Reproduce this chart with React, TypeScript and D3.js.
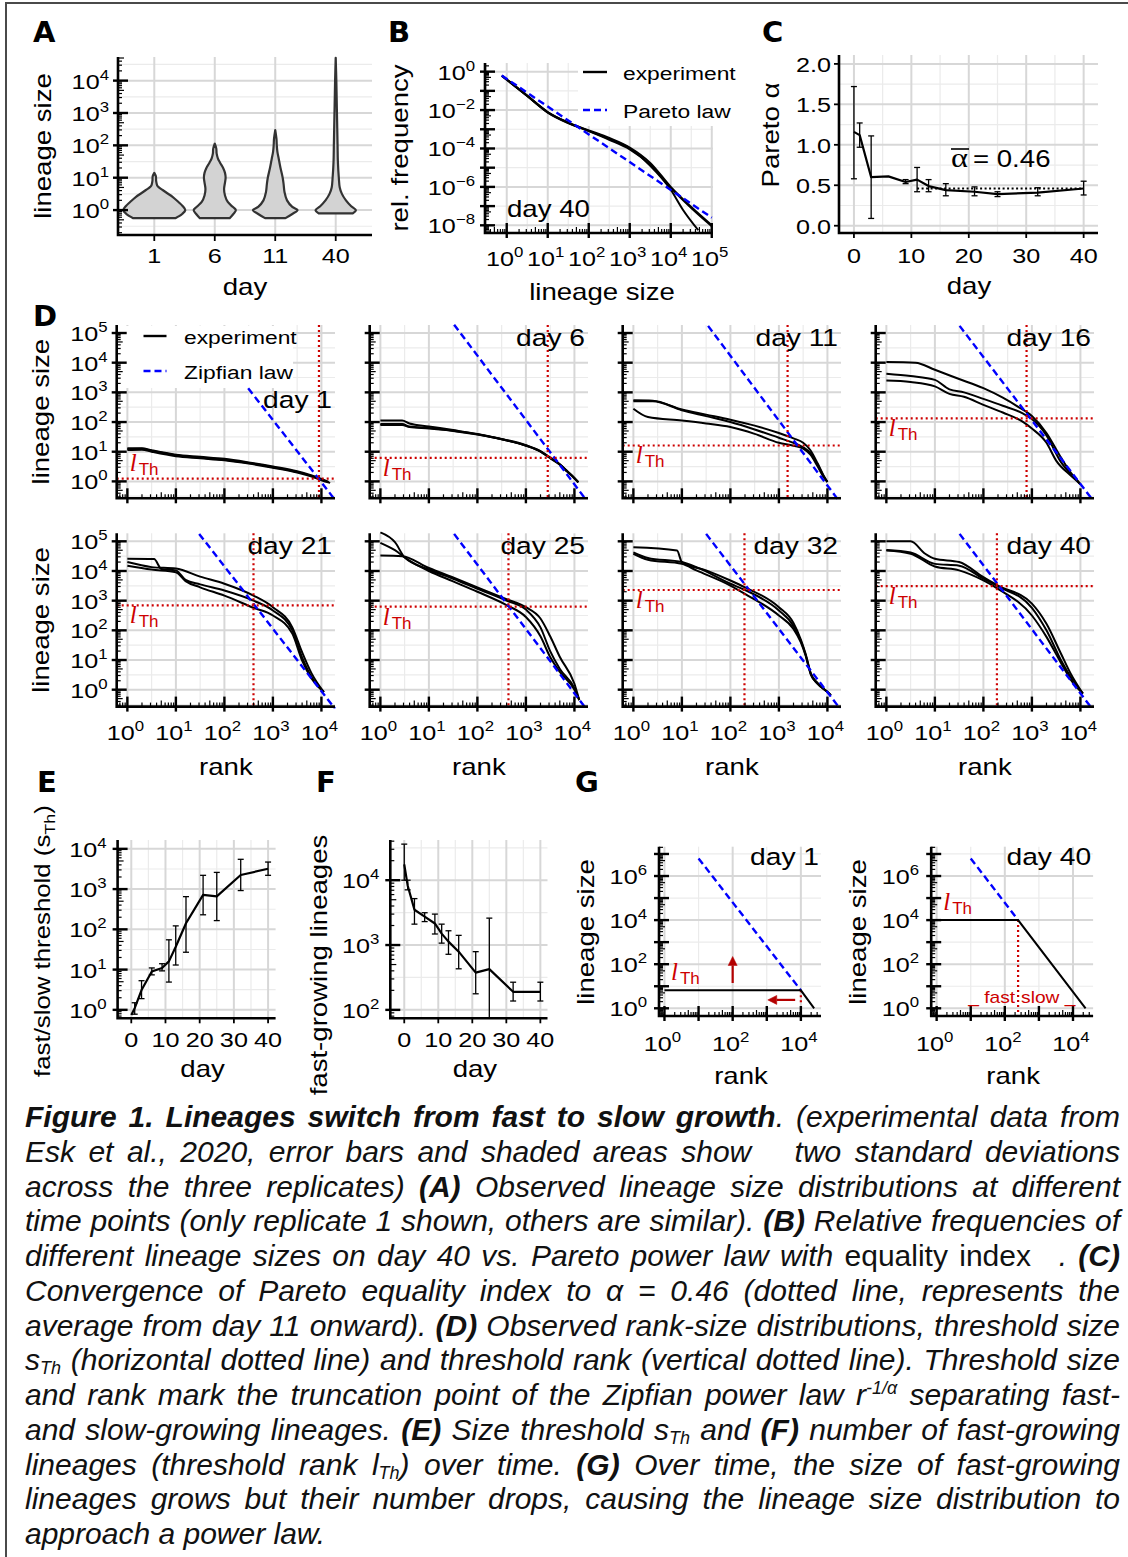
import React from "react";
import * as d3 from "d3";

const SANS = "'Liberation Sans', Arial, Helvetica, sans-serif";
const SERIF = "'Liberation Serif', 'Times New Roman', serif";
const HEAVY = "'DejaVu Sans', Verdana, sans-serif";
const RED = "#cd0000";
const BLUE = "#0000ff";
const GRID_MAJOR = "#d7d7d7";
const GRID_MINOR = "#ebebeb";
const SX = 1.2; // lettering in the figure is drawn a bit wide

type Pt = number[];
type Box = { l: number; r: number; t: number; b: number };

// ---------- A: violins, [log10 lineage size, relative density] ----------
const violinDays = ["1", "6", "11", "40"];
const violinDay1 = [[-0.25, 0.68], [-0.12, 0.9], [0, 1.0], [0.12, 0.92], [0.25, 0.78], [0.41, 0.59], [0.52, 0.42], [0.62, 0.27], [0.7, 0.15], [0.77, 0.09], [0.9, 0.06], [1.05, 0.05], [1.15, 0]];
const violinDay6 = [[-0.25, 0.48], [-0.12, 0.6], [0, 0.68], [0.1, 0.58], [0.25, 0.42], [0.45, 0.33], [0.65, 0.3], [0.85, 0.33], [1.0, 0.35], [1.15, 0.33], [1.3, 0.27], [1.45, 0.18], [1.6, 0.1], [1.75, 0.06], [1.9, 0.05], [2.05, 0]];
const violinDay11 = [[-0.25, 0.33], [-0.12, 0.55], [0, 0.72], [0.1, 0.55], [0.3, 0.38], [0.55, 0.3], [0.8, 0.27], [1.0, 0.24], [1.3, 0.17], [1.6, 0.11], [1.8, 0.07], [2.0, 0.05], [2.2, 0.04], [2.47, 0]];
const violinDay40 = [[-0.1, 0.55], [0, 0.65], [0.12, 0.5], [0.3, 0.33], [0.5, 0.2], [0.7, 0.13], [1.0, 0.1], [1.5, 0.07], [2.0, 0.06], [2.5, 0.05], [3.0, 0.04], [3.5, 0.03], [4.0, 0.02], [4.7, 0]];
const violinProfiles = [violinDay1, violinDay6, violinDay11, violinDay40];

// ---------- B: day 40 size distribution, [log10 size, log10 rel. frequency] ----------
const bRep1 = [[-0.12, -0.2], [0.5, -1.25], [1, -2.1], [1.5, -2.65], [2, -3.08], [2.5, -3.5], [3, -4.0], [3.5, -4.9], [4, -6.15], [4.3, -7.2], [4.67, -8.25]];
const bRep2 = [[-0.12, -0.21], [0.5, -1.27], [1, -2.13], [1.5, -2.68], [2, -3.1], [2.5, -3.55], [3, -4.05], [3.5, -4.85], [4, -6.05], [4.5, -7.1], [5, -8.05]];
const bRep3 = [[-0.12, -0.22], [0.5, -1.26], [1, -2.12], [1.5, -2.66], [2, -3.06], [2.5, -3.45], [3, -3.95], [3.5, -4.75], [4, -6.0], [4.5, -7.05], [5, -8.0]];
const bExperiment = [bRep1, bRep2, bRep3];
const bPareto = [[-0.12, -0.2], [5, -7.6]];
const bYExp = [0, -2, -4, -6, -8];
const bXExp = [0, 1, 2, 3, 4, 5];

// ---------- C: Pareto alpha over time ----------
const cDays = [0, 1, 3, 6, 9, 11, 13, 16, 21, 25, 32, 40];
const cAlpha = [1.16, 1.12, 0.6, 0.61, 0.54, 0.57, 0.49, 0.44, 0.42, 0.39, 0.41, 0.46];
const cAlphaLo = [0.58, 0.97, 0.09, 0.61, 0.52, 0.42, 0.42, 0.37, 0.37, 0.36, 0.37, 0.38];
const cAlphaHi = [1.72, 1.27, 1.11, 0.61, 0.57, 0.72, 0.57, 0.52, 0.48, 0.42, 0.47, 0.55];
const cAlphaMean = 0.46;
const cMeanFrom = 11;
const cYTicks = [0, 0.5, 1, 1.5, 2];
const dayTicks = [0, 10, 20, 30, 40];

// ---------- D: rank-size curves, [log10 rank, log10 size] ----------
const dTitles = ["day 1", "day 6", "day 11", "day 16", "day 21", "day 25", "day 32", "day 40"];
const dRankTh = [8900, 2820, 1510, 776, 398, 437, 195, 190];
const dSizeTh = [1.23, 6.2, 16.2, 132, 690, 630, 2290, 3090];
const dZipf = [
  [[2.49, 3.14], [4.28, -0.62]],
  [[1.52, 5.28], [4.24, -0.62]],
  [[1.54, 5.24], [4.22, -0.62]],
  [[1.51, 5.24], [4.25, -0.62]],
  [[1.48, 5.25], [4.28, -0.64]],
  [[1.52, 5.25], [4.24, -0.64]],
  [[1.5, 5.25], [4.26, -0.64]],
  [[1.51, 5.25], [4.24, -0.64]],
];
const dDay1 = [
  [[0, 1.12], [0.3, 1.12], [0.5, 1.05], [1, 0.9], [1.5, 0.83], [2, 0.76], [2.5, 0.64], [3, 0.5], [3.5, 0.34], [3.8, 0.2], [4, 0.08], [4.15, -0.02]],
  [[0, 1.06], [0.3, 1.07], [0.5, 1.0], [1, 0.85], [1.5, 0.78], [2, 0.71], [2.5, 0.6], [3, 0.46], [3.5, 0.3], [3.8, 0.16], [4, 0.04], [4.18, -0.05]],
  [[0, 1.09], [0.3, 1.1], [0.5, 1.03], [1, 0.88], [1.5, 0.8], [2, 0.73], [2.5, 0.62], [3, 0.48], [3.5, 0.32], [3.8, 0.18], [4, 0.06], [4.12, 0.0]],
];
const dDay6 = [
  [[0, 2.05], [0.45, 2.05], [0.6, 1.95], [1, 1.85], [1.5, 1.73], [2, 1.6], [2.5, 1.43], [3, 1.22], [3.3, 1.02], [3.5, 0.8], [3.7, 0.58], [3.85, 0.35], [4.0, 0.12], [4.08, -0.03]],
  [[0, 1.9], [0.45, 1.9], [0.6, 1.83], [1, 1.78], [1.5, 1.7], [2, 1.58], [2.5, 1.42], [3, 1.2], [3.3, 1.0], [3.5, 0.78], [3.7, 0.56], [3.85, 0.33], [4.0, 0.1], [4.08, -0.03]],
  [[0, 1.93], [0.45, 1.93], [0.6, 1.85], [1, 1.8], [1.5, 1.71], [2, 1.59], [2.5, 1.42], [3, 1.21], [3.3, 1.01], [3.5, 0.79], [3.7, 0.57], [3.85, 0.34], [4.0, 0.11], [4.08, -0.03]],
];
const dDay11 = [
  [[0, 2.73], [0.4, 2.72], [1, 2.42], [1.5, 2.25], [2, 2.08], [2.5, 1.88], [3, 1.63], [3.3, 1.45], [3.5, 1.3], [3.65, 1.05], [3.8, 0.6], [3.92, 0.2], [4.0, -0.02]],
  [[0, 2.7], [0.4, 2.7], [1, 2.4], [1.5, 2.2], [2, 2.0], [2.5, 1.75], [3, 1.47], [3.3, 1.3], [3.5, 1.15], [3.65, 0.95], [3.8, 0.55], [3.92, 0.18], [4.0, -0.02]],
  [[0, 2.45], [0.3, 2.17], [1, 2.05], [1.5, 1.95], [2, 1.83], [2.5, 1.6], [3, 1.3], [3.3, 1.2], [3.5, 1.1], [3.65, 0.9], [3.8, 0.5], [3.92, 0.15], [4.0, -0.02]],
];
const dDay16 = [
  [[0, 4.02], [0.6, 4.0], [1, 3.76], [1.5, 3.45], [2, 3.14], [2.4, 2.82], [2.7, 2.53], [3, 2.2], [3.3, 1.63], [3.6, 0.8], [3.8, 0.3], [3.95, 0.0], [4.0, -0.1]],
  [[0, 3.63], [0.5, 3.55], [1, 3.42], [1.3, 3.1], [1.6, 3.0], [2, 2.78], [2.4, 2.55], [2.8, 2.3], [3, 2.1], [3.3, 1.55], [3.6, 0.65], [3.8, 0.25], [3.95, 0.0], [4.0, -0.1]],
  [[0, 3.4], [0.5, 3.35], [1, 3.2], [1.3, 2.95], [1.6, 2.85], [2, 2.58], [2.4, 2.32], [2.8, 2.02], [3, 1.78], [3.3, 1.3], [3.5, 0.7], [3.8, 0.2], [3.95, -0.02], [4.0, -0.1]],
];
const dDay21 = [
  [[0, 4.41], [0.55, 4.4], [0.7, 4.07], [1, 4.02], [1.2, 3.7], [1.5, 3.55], [2, 3.34], [2.6, 3.0], [3, 2.67], [3.4, 2.0], [3.6, 1.1], [3.8, 0.42], [4.05, -0.08]],
  [[0, 4.3], [0.5, 4.13], [1, 4.08], [1.5, 3.81], [2, 3.57], [2.6, 3.17], [3, 2.78], [3.4, 2.1], [3.6, 1.27], [3.8, 0.54], [4.05, -0.08]],
  [[0, 4.18], [0.5, 4.05], [1, 3.96], [1.2, 3.66], [1.5, 3.45], [2, 3.17], [2.6, 2.76], [3, 2.5], [3.4, 1.89], [3.6, 0.99], [3.8, 0.37], [4.05, -0.08]],
];
const dDay25 = [
  [[0, 5.3], [0.3, 4.97], [0.5, 4.46], [1, 4.05], [1.5, 3.74], [2, 3.4], [2.6, 3.0], [3, 2.7], [3.3, 2.1], [3.5, 1.3], [3.7, 0.7], [4, 0.05], [4.1, -0.35]],
  [[0, 4.52], [0.45, 4.5], [1, 4.1], [1.5, 3.78], [2, 3.45], [2.6, 3.05], [3, 2.78], [3.3, 2.4], [3.5, 1.8], [3.7, 1.1], [4, 0.2], [4.1, -0.35]],
  [[0, 4.95], [0.3, 4.7], [0.55, 4.4], [1, 4.0], [1.5, 3.65], [2, 3.3], [2.6, 2.85], [3, 2.45], [3.3, 1.8], [3.5, 1.1], [3.7, 0.6], [4, 0.0], [4.1, -0.35]],
];
const dDay32 = [
  [[0, 4.8], [0.9, 4.69], [1.0, 4.3], [1.5, 4.02], [2, 3.68], [2.3, 3.45], [3, 2.78], [3.3, 2.25], [3.45, 1.7], [3.55, 1.21], [3.66, 0.54], [3.8, 0.22], [4.0, -0.08], [4.07, -0.19]],
  [[0, 4.63], [0.3, 4.44], [1, 4.3], [1.3, 4.13], [2, 3.57], [2.3, 3.36], [3, 2.67], [3.3, 2.15], [3.45, 1.65], [3.55, 1.18], [3.66, 0.52], [3.8, 0.2], [4.0, -0.08], [4.07, -0.19]],
  [[0, 4.58], [0.3, 4.38], [1, 4.24], [1.3, 4.02], [2, 3.51], [2.3, 3.23], [3, 2.5], [3.3, 2.05], [3.45, 1.6], [3.55, 1.15], [3.66, 0.5], [3.8, 0.2], [4.0, -0.08], [4.07, -0.19]],
];
const dDay40 = [
  [[0, 5.0], [0.5, 5.0], [0.8, 4.58], [1, 4.41], [1.5, 4.3], [2, 3.79], [2.3, 3.51], [3, 2.9], [3.3, 2.22], [3.6, 1.21], [3.8, 0.54], [4.05, -0.13]],
  [[0, 4.71], [0.5, 4.62], [1, 4.24], [1.5, 4.18], [2, 3.74], [2.3, 3.48], [3, 2.76], [3.3, 2.0], [3.6, 0.99], [3.8, 0.43], [4.05, -0.13]],
  [[0, 4.69], [0.5, 4.58], [1, 4.15], [1.5, 4.02], [2, 3.68], [2.3, 3.4], [3, 2.5], [3.3, 1.78], [3.6, 0.9], [3.8, 0.34], [4.05, -0.13]],
];
const dCurves = [dDay1, dDay6, dDay11, dDay16, dDay21, dDay25, dDay32, dDay40];

// ---------- E: fast/slow threshold size ----------
const eDays = [0, 1, 3, 6, 9, 11, 13, 16, 21, 25, 32, 40];
const eSize = [0.75, 1.1, 3.1, 9, 11, 16, 37, 142, 720, 660, 2240, 3200];
const eSizeLo = [0.75, 0.78, 1.9, 7.4, 9.3, 4.9, 13, 27, 230, 165, 920, 2200];
const eSizeHi = [0.75, 1.5, 5.3, 11, 14, 55, 122, 650, 2200, 2600, 5500, 4700];

// ---------- F: number of fast-growing lineages ----------
const fDays = [0, 1, 3, 6, 9, 11, 13, 16, 21, 25, 32, 40];
const fCount = [17500, 8300, 3500, 2750, 2150, 1500, 1130, 790, 375, 425, 190, 190];
const fCountLo = [10000, 7100, 2100, 2300, 1480, 1070, 720, 430, 177, 60, 137, 137];
const fCountHi = [36000, 10000, 5200, 3150, 3000, 2100, 1660, 1410, 790, 2600, 267, 267];

// ---------- G: sketch of truncated power law ----------
const gTitles = ["day 1", "day 40"];
const gRankTh = [10000, 245];
const gSizeTh = [6.5, 10000];
const gLastRank = [24500, 23400];
const gZipfTop = [[10, 6.3e6], [10, 6.3e6]];
const gMarkerBottom = [1.7, 0.45];

// ---------- caption ----------
const captionLines = [
  "*Figure 1. Lineages switch from fast to slow growth*. (experimental data from",
  "Esk et al., 2020, error bars and shaded areas show ¤ two standard deviations",
  "across the three replicates) *(A)* Observed lineage size distributions at different",
  "time points (only replicate 1 shown, others are similar). *(B)* Relative frequencies of",
  "different lineage sizes on day 40 vs. Pareto power law with ~equality index~ ¤. *(C)*",
  "Convergence of Pareto equality index to α = 0.46 (dotted line, represents the",
  "average from day 11 onward). *(D)* Observed rank-size distributions, threshold size",
  "s_{Th} (horizontal dotted line) and threshold rank (vertical dotted line). Threshold size",
  "and rank mark the truncation point of the Zipfian power law r^{-1/α} separating fast-",
  "and slow-growing lineages. *(E)* Size threshold s_{Th} and *(F)* number of fast-growing",
  "lineages (threshold rank l_{Th}) over time. *(G)* Over time, the size of fast-growing",
  "lineages grows but their number drops, causing the lineage size distribution to",
  "approach a power law.",
];

// ================= helpers =================
function Txt(props: any) {
  const { x, y, size, anchor = "start", rot = 0, fill = "#000", family = SANS, italic, bold, sx = SX, children } = props;
  return (
    <text
      transform={`translate(${x},${y})${rot ? ` rotate(${rot})` : ""} scale(${sx},1)`}
      fontSize={size}
      textAnchor={anchor}
      fill={fill}
      fontFamily={family}
      fontStyle={italic ? "italic" : undefined}
      fontWeight={bold ? "bold" : undefined}
    >
      {children}
    </text>
  );
}

function Pow({ x, y, e, anchor = "end" }: { x: number; y: number; e: number; anchor?: string }) {
  const label = e < 0 ? `\u2212${-e}` : String(e);
  return (
    <Txt x={x} y={y} size={21} anchor={anchor}>
      10<tspan dy={-9} fontSize={14}>{label}</tspan>
    </Txt>
  );
}

function Grid({ box, vx = [], vx2 = [], hy = [], hy2 = [] }: { box: Box; vx?: number[]; vx2?: number[]; hy?: number[]; hy2?: number[] }) {
  return (
    <g>
      {vx2.map((p, i) => <line key={"a" + i} x1={p} x2={p} y1={box.t} y2={box.b} stroke={GRID_MINOR} strokeWidth={1.2} />)}
      {hy2.map((p, i) => <line key={"b" + i} x1={box.l} x2={box.r} y1={p} y2={p} stroke={GRID_MINOR} strokeWidth={1.2} />)}
      {vx.map((p, i) => <line key={"c" + i} x1={p} x2={p} y1={box.t} y2={box.b} stroke={GRID_MAJOR} strokeWidth={2} />)}
      {hy.map((p, i) => <line key={"d" + i} x1={box.l} x2={box.r} y1={p} y2={p} stroke={GRID_MAJOR} strokeWidth={2} />)}
    </g>
  );
}

function Spines({ box }: { box: Box }) {
  return <path d={`M${box.l},${box.t}V${box.b}H${box.r}`} fill="none" stroke="#000" strokeWidth={2.6} />;
}

function LogTicks({ scale, side, at }: { scale: any; side: "left" | "bottom"; at: number }) {
  const [a, b] = scale.domain();
  const marks: any[] = [];
  for (let d = Math.floor(Math.log10(a)); d <= Math.ceil(Math.log10(b)); d++) {
    for (let k = 1; k <= 9; k++) {
      const v = k * 10 ** d;
      if (v < a || v > b) continue;
      const p = scale(v);
      const major = k === 1;
      const inner = major ? 10 : k === 5 ? 6 : 4;
      const outer = major ? 5 : 0;
      marks.push(
        side === "left" ? (
          <line key={`${d}-${k}`} x1={at - outer} x2={at + inner} y1={p} y2={p} stroke="#000" strokeWidth={major ? 2.4 : 1.2} />
        ) : (
          <line key={`${d}-${k}`} x1={p} x2={p} y1={at + outer} y2={at - inner} stroke="#000" strokeWidth={major ? 2.4 : 1.2} />
        )
      );
    }
  }
  return <g>{marks}</g>;
}

function Letter({ x, y, c }: { x: number; y: number; c: string }) {
  return <Txt x={x} y={y} size={29} family={HEAVY} bold sx={1}>{c}</Txt>;
}

function LTh({ x, y, size = 25 }: { x: number; y: number; size?: number }) {
  return (
    <text x={x} y={y} fill={RED}>
      <tspan fontFamily={SERIF} fontStyle="italic" fontSize={size}>l</tspan>
      <tspan fontFamily={SANS} fontSize={size * 0.68} dx={2} dy={4}>Th</tspan>
    </text>
  );
}

const logs = (lo: number, hi: number, step = 1) => d3.range(lo, hi + 1e-9, step);

// ================= panels =================
function PanelA() {
  const box = { l: 118, r: 372, t: 57, b: 235 };
  const x = d3.scalePoint<string>().domain(violinDays).range([box.l, box.r]).padding(0.6);
  const y = d3.scaleLog().domain([10 ** -0.77, 10 ** 4.73]).range([box.b, box.t]);
  const half = 31;
  return (
    <g>
      <Grid box={box} vx={violinDays.map((d) => x(d) as number)} hy={logs(0, 4).map((e) => y(10 ** e))} hy2={logs(-0.5, 4.5).map((e) => y(10 ** e))} />
      {violinProfiles.map((prof, i) => {
        const cx = x(violinDays[i]) as number;
        const area = d3
          .area<Pt>()
          .y((d) => y(10 ** d[0]))
          .x0((d) => cx - d[1] * half)
          .x1((d) => cx + d[1] * half)
          .curve(d3.curveCatmullRom.alpha(0.5));
        return <path key={i} d={area(prof) as string} fill="#d3d3d3" stroke="#333" strokeWidth={2.2} strokeLinejoin="round" />;
      })}
      <Spines box={box} />
      <LogTicks scale={y} side="left" at={box.l} />
      {violinDays.map((d) => (
        <line key={d} x1={x(d)} x2={x(d)} y1={box.b} y2={box.b + 6} stroke="#000" strokeWidth={1.8} />
      ))}
      {logs(0, 4).map((e) => <Pow key={e} x={box.l - 9} y={y(10 ** e) + 8} e={e} />)}
      {violinDays.map((d) => (
        <Txt key={d} x={x(d)} y={263} size={21} anchor="middle">{d}</Txt>
      ))}
      <Txt x={245} y={295} size={23} anchor="middle">day</Txt>
      <Txt x={51} y={146} size={23} anchor="middle" rot={-90}>lineage size</Txt>
      <Letter x={33} y={42} c="A" />
    </g>
  );
}

function PanelB() {
  const box = { l: 485, r: 713, t: 63, b: 233 };
  const x = d3.scaleLog().domain([10 ** -0.53, 10 ** 5.03]).range([box.l, box.r]);
  const y = d3.scaleLog().domain([10 ** -8.4, 10 ** 0.45]).range([box.b, box.t]);
  const line = d3
    .line<Pt>()
    .x((d) => x(10 ** d[0]))
    .y((d) => y(10 ** d[1]))
    .curve(d3.curveMonotoneX);
  return (
    <g>
      <clipPath id="clipB">
        <rect x={box.l} y={box.t - 3} width={box.r - box.l + 4} height={box.b - box.t + 6} />
      </clipPath>
      <Grid
        box={box}
        vx={logs(0, 5).map((e) => x(10 ** e))}
        vx2={logs(-0.5, 4.5).map((e) => x(10 ** e))}
        hy={logs(-8, 0, 2).map((e) => y(10 ** e))}
        hy2={logs(-7, -1, 2).map((e) => y(10 ** e))}
      />
      <rect x={578} y={60} width={165} height={66} fill="#fff" />
      <g clipPath="url(#clipB)">
        {bExperiment.map((rep, i) => (
          <path key={i} d={line(rep) as string} fill="none" stroke="#000" strokeWidth={2} />
        ))}
        <path d={line(bPareto) as string} fill="none" stroke={BLUE} strokeWidth={2.4} strokeDasharray="7 4" />
      </g>
      <Spines box={box} />
      <LogTicks scale={y} side="left" at={box.l} />
      <LogTicks scale={x} side="bottom" at={box.b} />
      {bYExp.map((e) => <Pow key={e} x={box.l - 10} y={y(10 ** e) + 8} e={e} />)}
      {bXExp.map((e) => <Pow key={e} x={x(10 ** e) - 2} y={266} e={e} anchor="middle" />)}
      <line x1={583} x2={607} y1={72} y2={72} stroke="#000" strokeWidth={2.4} />
      <Txt x={623} y={80} size={19}>experiment</Txt>
      <line x1={583} x2={607} y1={110} y2={110} stroke={BLUE} strokeWidth={2.4} strokeDasharray="7 4" />
      <Txt x={623} y={118} size={19}>Pareto law</Txt>
      <Txt x={507} y={217} size={23}>day 40</Txt>
      <Txt x={602} y={300} size={23} anchor="middle">lineage size</Txt>
      <Txt x={408} y={148} size={23} anchor="middle" rot={-90}>rel. frequency</Txt>
      <Letter x={388} y={42} c="B" />
    </g>
  );
}

function PanelC() {
  const box = { l: 839, r: 1098, t: 55, b: 233 };
  const x = d3.scaleLinear().domain([-2.6, 42.5]).range([box.l, box.r]);
  const y = d3.scaleLinear().domain([-0.09, 2.11]).range([box.b, box.t]);
  const line = d3
    .line<number>()
    .x((d, i) => x(cDays[i]))
    .y((d) => y(d));
  return (
    <g>
      <Grid box={box} vx={dayTicks.map(x)} vx2={[5, 15, 25, 35].map(x)} hy={cYTicks.map(y)} hy2={[0.25, 0.75, 1.25, 1.75].map(y)} />
      <line x1={x(cMeanFrom)} x2={x(40)} y1={y(cAlphaMean)} y2={y(cAlphaMean)} stroke="#000" strokeWidth={2} strokeDasharray="2 2.5" />
      <path d={line(cAlpha) as string} fill="none" stroke="#000" strokeWidth={2.2} strokeLinejoin="round" />
      {cDays.map((d, i) =>
        cAlphaHi[i] > cAlphaLo[i] ? (
          <g key={d} stroke="#000" strokeWidth={1.3}>
            <line x1={x(d)} x2={x(d)} y1={y(cAlphaLo[i])} y2={y(cAlphaHi[i])} />
            <line x1={x(d) - 3} x2={x(d) + 3} y1={y(cAlphaLo[i])} y2={y(cAlphaLo[i])} />
            <line x1={x(d) - 3} x2={x(d) + 3} y1={y(cAlphaHi[i])} y2={y(cAlphaHi[i])} />
          </g>
        ) : null
      )}
      <Spines box={box} />
      {cYTicks.map((v) => (
        <g key={v}>
          <line x1={box.l - 5} x2={box.l} y1={y(v)} y2={y(v)} stroke="#000" strokeWidth={1.8} />
          <Txt x={box.l - 8} y={y(v) + 8} size={21} anchor="end">{v.toFixed(1)}</Txt>
        </g>
      ))}
      {dayTicks.map((v) => (
        <g key={v}>
          <line x1={x(v)} x2={x(v)} y1={box.b} y2={box.b + 5} stroke="#000" strokeWidth={1.8} />
          <Txt x={x(v)} y={263} size={21} anchor="middle">{v}</Txt>
        </g>
      ))}
      <Txt x={951} y={167} size={27} family={SERIF}>α</Txt>
      <line x1={951} x2={969} y1={149} y2={149} stroke="#000" strokeWidth={1.6} />
      <Txt x={973} y={167} size={23}>= {cAlphaMean.toFixed(2)}</Txt>
      <Txt x={969} y={294} size={23} anchor="middle">day</Txt>
      <Txt x={779} y={135} size={23} anchor="middle" rot={-90}>Pareto α</Txt>
      <Letter x={762} y={42} c="C" />
    </g>
  );
}

function PanelD() {
  const W = 218.3;
  const H = 173.3;
  const cols = [116.7, 369.7, 622.7, 875.7];
  const rows = [325, 533.3];
  return (
    <g>
      {dTitles.map((title, i) => {
        const c = i % 4;
        const ri = Math.floor(i / 4);
        const box = { l: cols[c], r: cols[c] + W, t: rows[ri], b: rows[ri] + H };
        const x = d3.scaleLog().domain([10 ** -0.22, 10 ** 4.28]).range([box.l, box.r]);
        const y = d3.scaleLog().domain([10 ** -0.57, 10 ** 5.27]).range([box.b, box.t]);
        const line = d3
          .line<Pt>()
          .x((d) => x(10 ** d[0]))
          .y((d) => y(10 ** d[1]))
          .curve(d3.curveMonotoneX);
        const rx = x(dRankTh[i]);
        const ry = y(dSizeTh[i]);
        const labelY = ry + 18 > box.b - 14 ? ry - 8 : ry + 18;
        return (
          <g key={title}>
            <clipPath id={`clipD${i}`}>
              <rect x={box.l} y={box.t - 2} width={W + 4} height={H + 4} />
            </clipPath>
            <Grid
              box={box}
              vx={logs(0, 4).map((e) => x(10 ** e))}
              vx2={logs(0.5, 3.5).map((e) => x(10 ** e))}
              hy={logs(0, 5).map((e) => y(10 ** e))}
              hy2={logs(-0.5, 4.5).map((e) => y(10 ** e))}
            />
            {i === 0 ? <rect x={121} y={326} width={172} height={62} fill="#fff" /> : null}
            <g clipPath={`url(#clipD${i})`}>
              {dCurves[i].map((rep, k) => (
                <path key={k} d={line(rep) as string} fill="none" stroke="#000" strokeWidth={2} />
              ))}
              <path d={line(dZipf[i]) as string} fill="none" stroke={BLUE} strokeWidth={2.4} strokeDasharray="7 4" />
            </g>
            <line x1={box.l} x2={box.r} y1={ry} y2={ry} stroke={RED} strokeWidth={2.2} strokeDasharray="2 3" />
            <line x1={rx} x2={rx} y1={box.t} y2={box.b} stroke={RED} strokeWidth={2.2} strokeDasharray="2 3" />
            <Spines box={box} />
            <LogTicks scale={y} side="left" at={box.l} />
            <LogTicks scale={x} side="bottom" at={box.b} />
            <LTh x={box.l + 13} y={labelY} />
            <Txt x={box.r - 3} y={i === 0 ? 408 : ri === 0 ? 346 : 554} size={23.5} anchor="end">{title}</Txt>
            {c === 0 ? logs(0, 5).map((e) => <Pow key={e} x={box.l - 9} y={y(10 ** e) + 8} e={e} />) : null}
            {c === 0 ? <Txt x={49} y={(box.t + box.b) / 2} size={23} anchor="middle" rot={-90}>lineage size</Txt> : null}
            {ri === 1 ? logs(0, 4).map((e) => <Pow key={e} x={x(10 ** e) - 2} y={740} e={e} anchor="middle" />) : null}
            {ri === 1 ? <Txt x={(box.l + box.r) / 2} y={775} size={23} anchor="middle">rank</Txt> : null}
          </g>
        );
      })}
      <line x1={143.5} x2={166.5} y1={336} y2={336} stroke="#000" strokeWidth={2.4} />
      <Txt x={184} y={344} size={19}>experiment</Txt>
      <line x1={143.5} x2={166.5} y1={371} y2={371} stroke={BLUE} strokeWidth={2.4} strokeDasharray="7 4" />
      <Txt x={184} y={379} size={19}>Zipfian law</Txt>
      <Letter x={33} y={326} c="D" />
    </g>
  );
}

function TimePanel({ box, xDomain, yDomain, days, vals, lo, hi }: any) {
  const x = d3.scaleLinear().domain(xDomain).range([box.l, box.r]);
  const y = d3.scaleLog().domain(yDomain).range([box.b, box.t]);
  const [y0, y1] = [Math.log10(yDomain[0]), Math.log10(yDomain[1])];
  const line = d3
    .line<number>()
    .x((d, i) => x(days[i]))
    .y((d) => y(d));
  const clampY = (v: number) => y(Math.min(Math.max(v, yDomain[0]), yDomain[1]));
  return (
    <g>
      <Grid
        box={box}
        vx={dayTicks.map(x)}
        vx2={[5, 15, 25, 35].map(x)}
        hy={logs(Math.ceil(y0), Math.floor(y1)).map((e) => y(10 ** e))}
        hy2={logs(Math.ceil(y0 - 0.5) + 0.5, y1).map((e) => y(10 ** e))}
      />
      <path d={line(vals) as string} fill="none" stroke="#000" strokeWidth={2.2} strokeLinejoin="round" />
      {days.map((d: number, i: number) =>
        hi[i] > lo[i] ? (
          <g key={d} stroke="#000" strokeWidth={1.3}>
            <line x1={x(d)} x2={x(d)} y1={clampY(lo[i])} y2={clampY(hi[i])} />
            {lo[i] >= yDomain[0] ? <line x1={x(d) - 3} x2={x(d) + 3} y1={y(lo[i])} y2={y(lo[i])} /> : null}
            <line x1={x(d) - 3} x2={x(d) + 3} y1={y(hi[i])} y2={y(hi[i])} />
          </g>
        ) : null
      )}
      <Spines box={box} />
      <LogTicks scale={y} side="left" at={box.l} />
      {logs(Math.ceil(y0), Math.floor(y1)).map((e) => <Pow key={e} x={box.l - 11} y={y(10 ** e) + 8} e={e} />)}
      {dayTicks.map((v) => (
        <g key={v}>
          <line x1={x(v)} x2={x(v)} y1={box.b} y2={box.b + 5} stroke="#000" strokeWidth={1.8} />
          <Txt x={x(v)} y={1047} size={21} anchor="middle">{v}</Txt>
        </g>
      ))}
      <Txt x={(box.l + box.r) / 2 + 6} y={1077} size={23} anchor="middle">day</Txt>
    </g>
  );
}

function PanelEF() {
  return (
    <g>
      <TimePanel box={{ l: 117.6, r: 275.6, t: 840, b: 1018.3 }} xDomain={[-4, 42.2]} yDomain={[10 ** -0.21, 10 ** 4.22]} days={eDays} vals={eSize} lo={eSizeLo} hi={eSizeHi} />
      <Txt x={50} y={941} size={21.5} anchor="middle" rot={-90}>
        fast/slow threshold (s<tspan dy={5} fontSize={15}>Th</tspan><tspan dy={-5}>)</tspan>
      </Txt>
      <Letter x={37} y={792} c="E" />
      <TimePanel box={{ l: 390.3, r: 547.5, t: 840, b: 1018.3 }} xDomain={[-4.1, 42.1]} yDomain={[10 ** 1.87, 10 ** 4.62]} days={fDays} vals={fCount} lo={fCountLo} hi={fCountHi} />
      <Txt x={327} y={965} size={23} anchor="middle" rot={-90}>fast-growing lineages</Txt>
      <Letter x={316} y={792} c="F" />
    </g>
  );
}

function Arrow({ x1, y1, x2, y2 }: { x1: number; y1: number; x2: number; y2: number }) {
  const a = Math.atan2(y2 - y1, x2 - x1);
  const L = 9;
  const w = 4.5;
  const bx = x2 - L * Math.cos(a);
  const by = y2 - L * Math.sin(a);
  const nx = -Math.sin(a) * w;
  const ny = Math.cos(a) * w;
  return (
    <g fill="#b40000" stroke="#b40000">
      <line x1={x1} y1={y1} x2={bx} y2={by} strokeWidth={2.2} />
      <path d={`M${x2},${y2}L${bx + nx},${by + ny}L${bx - nx},${by - ny}Z`} strokeWidth={0.5} />
    </g>
  );
}

function PanelG() {
  const boxes = [
    { l: 659, r: 821, t: 846.7, b: 1016 },
    { l: 931.2, r: 1093.1, t: 846.7, b: 1016 },
  ];
  return (
    <g>
      {boxes.map((box, i) => {
        const x = d3.scaleLog().domain([10 ** -0.16, 10 ** 4.59]).range([box.l, box.r]);
        const y = d3.scaleLog().domain([10 ** -0.35, 10 ** 7.33]).range([box.b, box.t]);
        const line = d3
          .line<Pt>()
          .x((d) => x(d[0]))
          .y((d) => y(d[1]));
        const rTh = gRankTh[i];
        const sTh = gSizeTh[i];
        const solid = [[1, sTh], [rTh, sTh], [gLastRank[i], 1]];
        const zipf = [gZipfTop[i], [rTh, sTh]];
        return (
          <g key={i}>
            <Grid
              box={box}
              vx={[0, 2, 4].map((e) => x(10 ** e))}
              vx2={[1, 3].map((e) => x(10 ** e))}
              hy={[0, 2, 4, 6].map((e) => y(10 ** e))}
              hy2={[1, 3, 5, 7].map((e) => y(10 ** e))}
            />
            <line x1={x(rTh)} x2={x(rTh)} y1={y(sTh)} y2={y(gMarkerBottom[i])} stroke={RED} strokeWidth={2.2} strokeDasharray="2 3" />
            <path d={line(zipf) as string} fill="none" stroke={BLUE} strokeWidth={2.4} strokeDasharray="7 4" />
            <path d={line(solid) as string} fill="none" stroke="#000" strokeWidth={2} />
            <Spines box={box} />
            <LogTicks scale={y} side="left" at={box.l} />
            <LogTicks scale={x} side="bottom" at={box.b} />
            {[0, 2, 4, 6].map((e) => <Pow key={e} x={box.l - 12} y={y(10 ** e) + 8} e={e} />)}
            {[0, 2, 4].map((e) => <Pow key={e} x={x(10 ** e) - 2} y={1051} e={e} anchor="middle" />)}
            <Txt x={box.r - 2} y={865} size={23.5} anchor="end">{gTitles[i]}</Txt>
            <Txt x={(box.l + box.r) / 2 + 1} y={1084} size={23} anchor="middle">rank</Txt>
            <Txt x={box.l - 65} y={932} size={23} anchor="middle" rot={-90}>lineage size</Txt>
            <LTh x={box.l + 12} y={y(sTh) - 10} />
            {i === 0 ? (
              <g>
                <Arrow x1={x(100)} y1={y(14)} x2={x(100)} y2={y(224)} />
                <Arrow x1={x(6800)} y1={y(2.4)} x2={x(1070)} y2={y(2.4)} />
              </g>
            ) : (
              <g>
                <Txt x={x(rTh) - 3} y={1003} size={16} anchor="end" fill={RED}>_ fast</Txt>
                <Txt x={x(rTh) + 3} y={1003} size={16} fill={RED}>slow _</Txt>
              </g>
            )}
          </g>
        );
      })}
      <Letter x={575} y={792} c="G" />
    </g>
  );
}

// ================= caption =================
type Piece = { text: string; bold: boolean; upright: boolean; kind: "n" | "sub" | "sup" | "blank" };
const CAP_SIZE = 30;
const CAP_SMALL = 18;
let measureCtx: CanvasRenderingContext2D | null = null;

function capFont(p: Piece) {
  const size = p.kind === "n" ? CAP_SIZE : CAP_SMALL;
  return `${p.upright ? "normal" : "italic"} ${p.bold ? "bold" : "normal"} ${size}px 'Liberation Sans'`;
}

function pieceWidth(p: Piece) {
  if (p.kind === "blank") return CAP_SIZE * 0.55;
  if (!measureCtx) measureCtx = document.createElement("canvas").getContext("2d");
  if (!measureCtx) return p.text.length * CAP_SIZE * 0.5;
  measureCtx.font = capFont(p);
  return measureCtx.measureText(p.text).width;
}

function parseWord(word: string, st: { bold: boolean; upright: boolean }): Piece[] {
  const out: Piece[] = [];
  let buf = "";
  const flush = () => {
    if (buf) out.push({ text: buf, bold: st.bold, upright: st.upright, kind: "n" });
    buf = "";
  };
  for (let i = 0; i < word.length; i++) {
    const c = word[i];
    if (c === "*") {
      flush();
      st.bold = !st.bold;
    } else if (c === "~") {
      flush();
      st.upright = !st.upright;
    } else if ((c === "_" || c === "^") && word[i + 1] === "{") {
      flush();
      const j = word.indexOf("}", i);
      out.push({ text: word.slice(i + 2, j), bold: st.bold, upright: st.upright, kind: c === "_" ? "sub" : "sup" });
      i = j;
    } else if (c === "¤") {
      flush();
      out.push({ text: "", bold: st.bold, upright: st.upright, kind: "blank" });
    } else buf += c;
  }
  flush();
  return out;
}

function Caption() {
  const left = 25;
  const right = 1120;
  const top = 1127;
  const step = 34.75;
  return (
    <g fill="#111">
      {captionLines.map((line, li) => {
        const st = { bold: false, upright: false };
        const words = line.split(" ").filter((w) => w.length).map((w) => parseWord(w, st));
        const widths = words.map((ws) => ws.reduce((s, p) => s + pieceWidth(p), 0));
        const total = widths.reduce((a, b) => a + b, 0);
        const last = li === captionLines.length - 1;
        const gap = last ? CAP_SIZE * 0.278 : (right - left - total) / (words.length - 1);
        const y = top + li * step;
        let cx = left;
        const els: any[] = [];
        words.forEach((ws, wi) => {
          ws.forEach((p, pi) => {
            const w = pieceWidth(p);
            if (p.kind !== "blank") {
              els.push(
                <text
                  key={`${wi}-${pi}`}
                  x={cx}
                  y={y + (p.kind === "sub" ? 4 : p.kind === "sup" ? -11 : 0)}
                  fontSize={p.kind === "n" ? CAP_SIZE : CAP_SMALL}
                  fontFamily={SANS}
                  fontStyle={p.upright ? "normal" : "italic"}
                  fontWeight={p.bold ? "bold" : "normal"}
                >
                  {p.text}
                </text>
              );
            }
            cx += w;
          });
          cx += gap;
        });
        return <g key={li}>{els}</g>;
      })}
    </g>
  );
}

export default function App() {
  return (
    <svg width={1128} height={1557} style={{ position: "absolute", left: 0, top: 0 }} fontFamily={SANS}>
      <rect x={0} y={0} width={1128} height={1557} fill="#fff" />
      <rect x={6} y={3} width={1140} height={1570} fill="none" stroke="#4a4a4a" strokeWidth={2} />
      <PanelA />
      <PanelB />
      <PanelC />
      <PanelD />
      <PanelEF />
      <PanelG />
      <Caption />
    </svg>
  );
}
